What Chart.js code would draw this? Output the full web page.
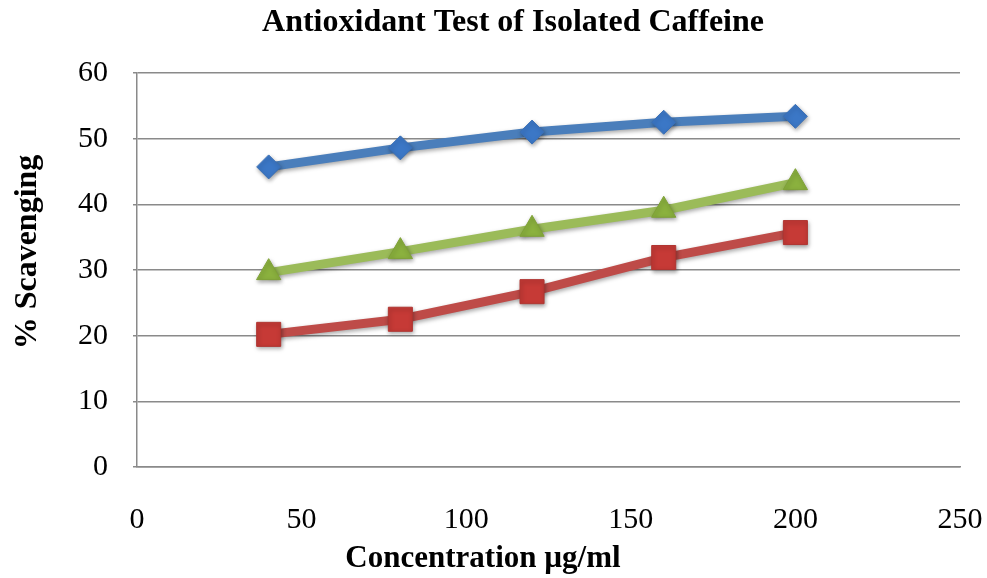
<!DOCTYPE html>
<html>
<head>
<meta charset="utf-8">
<script src="https://cdn.jsdelivr.net/npm/chart.js@4/dist/chart.umd.min.js"></script>
<style>
  html, body { margin: 0; padding: 0; background: #fff; }
  #wrap { width: 987px; height: 578px; }
</style>
</head>
<body>
<div id="wrap"><canvas id="myChart" width="987" height="578"></canvas></div>
<script>
'use strict';

let chartTitle = 'Antioxidant Test of Isolated Caffeine';
let xTitle = 'Concentration µg/ml';
let yTitle = '% Scavenging';

let concentrations = [40, 80, 120, 160, 200];
let blueValues = [45.7, 48.6, 51.0, 52.5, 53.4];
let greenValues = [29.6, 32.8, 36.2, 39.1, 43.3];
let redValues = [20.2, 22.5, 26.7, 31.9, 35.7];

let xTicks = [0, 50, 100, 150, 200, 250];
let yTicks = [0, 10, 20, 30, 40, 50, 60];

let serif = '"Liberation Serif", "Times New Roman", serif';
let gridColor = '#8a8a8a';

function toPoints(values) {
  return concentrations.map(function (x, i) {
    return { x: x, y: values[i] };
  });
}

// titles drawn by hand so they sit where Excel put them
let titlePlugin = {
  id: 'excelTitles',
  afterDraw: function (chart) {
    let ctx = chart.ctx;
    ctx.save();
    ctx.fillStyle = '#000';
    ctx.textAlign = 'center';
    ctx.textBaseline = 'middle';
    ctx.font = 'bold 32px ' + serif;
    ctx.fillText(chartTitle, 513, 23);
    ctx.font = 'bold 31px ' + serif;
    ctx.fillText(xTitle, 483, 559);
    ctx.translate(28, 252);
    ctx.rotate(-Math.PI / 2);
    ctx.font = 'bold 32px ' + serif;
    ctx.fillText(yTitle, 0, 0);
    ctx.restore();
  }
};

let shadowPlugin = {
  id: 'markerShadow',
  beforeDatasetsDraw: function (chart) {
    let ctx = chart.ctx;
    ctx.save();
    ctx.shadowColor = 'rgba(0,0,0,0.35)';
    ctx.shadowBlur = 4;
    ctx.shadowOffsetX = 1;
    ctx.shadowOffsetY = 2;
  },
  afterDatasetsDraw: function (chart) {
    chart.ctx.restore();
  }
};

let ctx = document.getElementById('myChart').getContext('2d');

let chart = new Chart(ctx, {
  type: 'line',
  data: {
    datasets: [
      {
        label: 'Series 1',
        data: toPoints(blueValues),
        borderColor: '#4A7EBB',
        backgroundColor: '#3B77C6',
        pointBorderColor: '#3A6FB5',
        borderWidth: 9,
        pointStyle: 'rectRot',
        pointRadius: 12,
        pointBorderWidth: 1
      },
      {
        label: 'Series 2',
        data: toPoints(redValues),
        borderColor: '#BE4B48',
        backgroundColor: '#C63A36',
        pointBorderColor: '#B03531',
        borderWidth: 9,
        pointStyle: 'rect',
        pointRadius: 17,
        pointBorderWidth: 1
      },
      {
        label: 'Series 3',
        data: toPoints(greenValues),
        borderColor: '#9BBB59',
        backgroundColor: '#8BB13E',
        pointBorderColor: '#7FA236',
        borderWidth: 9,
        pointStyle: 'triangle',
        pointRadius: 14,
        pointBorderWidth: 1
      }
    ]
  },
  options: {
    responsive: false,
    animation: false,
    layout: { padding: { top: 73, right: 27, left: 0, bottom: 0 } },
    plugins: {
      legend: { display: false },
      title: { display: false },
      tooltip: { enabled: false }
    },
    scales: {
      x: {
        type: 'linear',
        min: 0,
        max: 250,
        afterBuildTicks: function (axis) {
          axis.ticks = xTicks.map(function (v) { return { value: v }; });
        },
        afterFit: function (axis) {
          axis.height = 578 - 467;
          axis.paddingLeft = 0;
          axis.paddingRight = 0;
        },
        grid: { display: false, drawTicks: false },
        border: { display: true, color: gridColor, width: 1.5 },
        ticks: {
          padding: 35,
          color: '#000',
          font: { family: serif, size: 30 },
          maxRotation: 0
        }
      },
      y: {
        min: 0,
        max: 60,
        afterBuildTicks: function (axis) {
          axis.ticks = yTicks.map(function (v) { return { value: v }; });
        },
        afterFit: function (axis) {
          axis.width = 137;
          axis.paddingTop = 0;
          axis.paddingBottom = 0;
        },
        grid: {
          color: gridColor,
          lineWidth: 1.5,
          tickLength: 4,
          tickColor: gridColor
        },
        border: { display: true, color: gridColor, width: 1.5 },
        ticks: {
          padding: 25,
          color: '#000',
          font: { family: serif, size: 30 }
        }
      }
    }
  },
  plugins: [titlePlugin, shadowPlugin]
});
</script>
</body>
</html>
